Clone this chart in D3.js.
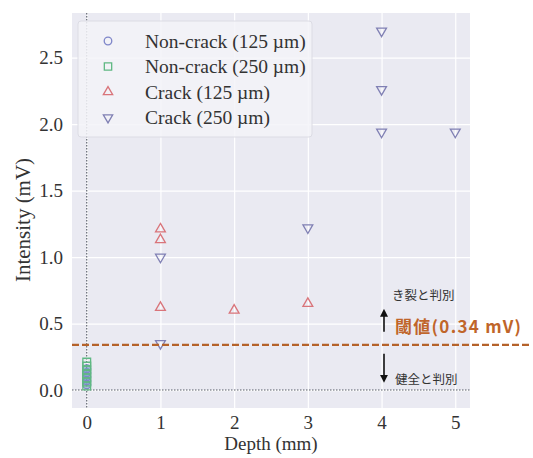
<!DOCTYPE html>
<html>
<head>
<meta charset="utf-8">
<script src="https://cdn.jsdelivr.net/npm/d3@7"></script>
<style>
  html, body { margin: 0; padding: 0; background: #ffffff; }
  svg { display: block; }
</style>
</head>
<body>
<svg id="chart" width="533" height="458"></svg>
<script>
// Depth (mm) and intensity (mV) per series
const nonCrack125Depth = [0, 0, 0, 0, 0];
const nonCrack125Value = [0.04, 0.07, 0.10, 0.13, 0.16];
const nonCrack250Depth = [0, 0, 0, 0, 0, 0, 0];
const nonCrack250Value = [0.03, 0.06, 0.09, 0.12, 0.15, 0.18, 0.21];
const crack125Depth = [1, 1, 1, 2, 3];
const crack125Value = [1.21, 1.13, 0.62, 0.60, 0.65];
const crack250Depth = [1, 1, 3, 4, 4, 4, 5];
const crack250Value = [1.00, 0.35, 1.22, 2.70, 2.26, 1.94, 1.94];

const xTicks = [0, 1, 2, 3, 4, 5];
const yTicks = [0.0, 0.5, 1.0, 1.5, 2.0, 2.5];
const threshold = 0.34;

const legendLabels = ["Non-crack (125 µm)", "Non-crack (250 µm)", "Crack (125 µm)", "Crack (250 µm)"];

const series = [
  { label: legendLabels[0], xs: nonCrack125Depth, ys: nonCrack125Value, symbol: d3.symbolCircle, color: "#7f86c9", size: 50 },
  { label: legendLabels[1], xs: nonCrack250Depth, ys: nonCrack250Value, symbol: d3.symbolSquare, color: "#5fb883", size: 60 },
  { label: legendLabels[2], xs: crack125Depth, ys: crack125Value, symbol: d3.symbolTriangle, color: "#d9747a", size: 42 },
  { label: legendLabels[3], xs: crack250Depth, ys: crack250Value, symbol: "down", color: "#8080b4", size: 42 }
];

const svg = d3.select("#chart");
const plot = { left: 72, right: 470, top: 13, bottom: 408 };

const x = d3.scaleLinear().domain([-0.2, 5.2]).range([plot.left, plot.right]);
const y = d3.scaleLinear().domain([-0.135, 2.835]).range([plot.bottom, plot.top]);

const serif = "'Liberation Serif', 'Times New Roman', Times, serif";
const cjk = "'Noto Sans CJK JP', 'Noto Sans', sans-serif";

// Plot background
svg.append("rect")
  .attr("x", plot.left).attr("y", plot.top)
  .attr("width", plot.right - plot.left).attr("height", plot.bottom - plot.top)
  .attr("fill", "#eaeaf2");

// Grid and tick labels
const xAxisG = svg.append("g")
  .attr("transform", `translate(0,${plot.bottom})`)
  .call(d3.axisBottom(x).tickValues(xTicks).tickFormat(d3.format("d"))
    .tickSize(-(plot.bottom - plot.top)).tickPadding(8));
const yAxisG = svg.append("g")
  .attr("transform", `translate(${plot.left},0)`)
  .call(d3.axisLeft(y).tickValues(yTicks).tickFormat(d3.format(".1f"))
    .tickSize(-(plot.right - plot.left)).tickPadding(9));

[xAxisG, yAxisG].forEach(g => {
  g.select(".domain").remove();
  g.selectAll(".tick line").attr("stroke", "#ffffff").attr("stroke-width", 1.2);
  g.selectAll(".tick text")
    .attr("fill", "#333333")
    .style("font-family", serif)
    .style("font-size", "19px");
});

// Reference lines at zero
svg.append("line")
  .attr("x1", x(0)).attr("x2", x(0))
  .attr("y1", plot.top).attr("y2", plot.bottom)
  .attr("stroke", "#555a66").attr("stroke-width", 1.1)
  .attr("stroke-dasharray", "1.5,1.5");
svg.append("line")
  .attr("x1", plot.left).attr("x2", plot.right)
  .attr("y1", y(0)).attr("y2", y(0))
  .attr("stroke", "#555a66").attr("stroke-width", 1.1)
  .attr("stroke-dasharray", "1.5,1.5");

// Marker path helper
function markerPath(s, size) {
  if (s === "down") {
    return d3.symbol().type(d3.symbolTriangle).size(size)();
  }
  return d3.symbol().type(s).size(size)();
}

// Scatter points
series.forEach(s => {
  const pts = s.xs.map((d, i) => ({ x: d, y: s.ys[i] }));
  svg.append("g").selectAll("path")
    .data(pts)
    .join("path")
    .attr("d", markerPath(s.symbol, s.size))
    .attr("transform", d => `translate(${x(d.x)},${y(d.y)})` + (s.symbol === "down" ? " rotate(180)" : ""))
    .attr("fill", s.symbol === d3.symbolCircle ? "#6f9fc0" : "none")
    .attr("fill-opacity", s.symbol === d3.symbolCircle ? 0.6 : 0)
    .attr("stroke", s.color)
    .attr("stroke-width", 1.3);
});

// Threshold line
svg.append("line")
  .attr("x1", plot.left).attr("x2", 530)
  .attr("y1", y(threshold)).attr("y2", y(threshold))
  .attr("stroke", "#b5622a").attr("stroke-width", 2.4)
  .attr("stroke-dasharray", "7,3");

// Legend
const lg = svg.append("g");
lg.append("rect")
  .attr("x", 78).attr("y", 21).attr("width", 234).attr("height", 116)
  .attr("rx", 3)
  .attr("fill", "#f3f3f8").attr("fill-opacity", 0.85)
  .attr("stroke", "#dcdce4").attr("stroke-width", 1);
series.forEach((s, i) => {
  const yy = 41 + i * 25.5;
  lg.append("path")
    .attr("d", markerPath(s.symbol, s.size * 0.9))
    .attr("transform", `translate(108,${yy})` + (s.symbol === "down" ? " rotate(180)" : ""))
    .attr("fill", "none")
    .attr("stroke", s.color).attr("stroke-width", 1.3);
  lg.append("text")
    .attr("x", 145).attr("y", yy).attr("dy", "0.35em")
    .attr("fill", "#333333")
    .style("font-family", serif).style("font-size", "19.5px")
    .text(s.label);
});

// Axis titles
svg.append("text")
  .attr("x", (plot.left + plot.right) / 2).attr("y", 450)
  .attr("text-anchor", "middle")
  .attr("fill", "#333333")
  .style("font-family", serif).style("font-size", "19px")
  .text("Depth (mm)");
svg.append("text")
  .attr("transform", `translate(23,220) rotate(-90)`)
  .attr("text-anchor", "middle").attr("dy", "0.35em")
  .attr("fill", "#333333")
  .style("font-family", serif).style("font-size", "21px")
  .text("Intensity (mV)");

// Annotations around the threshold
const ty = y(threshold);
svg.append("defs").append("marker")
  .attr("id", "arrowhead").attr("viewBox", "0 0 10 10")
  .attr("refX", 5).attr("refY", 5)
  .attr("markerWidth", 5).attr("markerHeight", 5)
  .attr("orient", "auto-start-reverse")
  .append("path").attr("d", "M0,0 L10,5 L0,10 z").attr("fill", "#111111");

svg.append("line")
  .attr("x1", 384).attr("x2", 384)
  .attr("y1", ty - 13).attr("y2", ty - 32)
  .attr("stroke", "#111111").attr("stroke-width", 1.6)
  .attr("marker-end", "url(#arrowhead)");
svg.append("line")
  .attr("x1", 384).attr("x2", 384)
  .attr("y1", ty + 9).attr("y2", ty + 34)
  .attr("stroke", "#111111").attr("stroke-width", 1.6)
  .attr("marker-end", "url(#arrowhead)");

svg.append("text")
  .attr("x", 392).attr("y", ty - 49).attr("dy", "0.35em")
  .attr("fill", "#333333")
  .style("font-family", cjk).style("font-size", "12.5px")
  .text("き裂と判別");
svg.append("text")
  .attr("x", 395).attr("y", ty - 18).attr("dy", "0.35em")
  .attr("fill", "#c0652a")
  .style("font-family", cjk).style("font-size", "17px").style("font-weight", "bold")
  .style("letter-spacing", "1.3px")
  .text("閾値(0.34 mV)");
svg.append("text")
  .attr("x", 395).attr("y", ty + 35).attr("dy", "0.35em")
  .attr("fill", "#333333")
  .style("font-family", cjk).style("font-size", "12.5px")
  .text("健全と判別");
</script>
</body>
</html>
